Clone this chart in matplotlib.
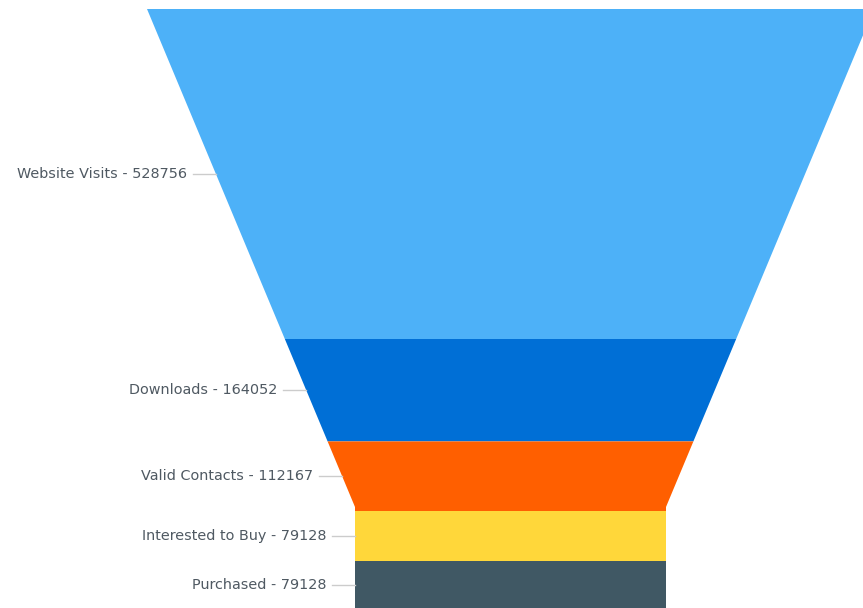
import matplotlib
matplotlib.use("Agg")
import matplotlib.pyplot as plt
from matplotlib.patches import Polygon

categories = ["Website Visits", "Downloads", "Valid Contacts", "Interested to Buy", "Purchased"]
values = [528756, 164052, 112167, 79128, 79128]
colors = ["#4db1f8", "#006fd6", "#ff5f00", "#ffd73a", "#405864"]

W, H = 863, 608
fig = plt.figure(figsize=(W / 100, H / 100), dpi=100)
ax = fig.add_axes([0, 0, 1, 1])
ax.set_xlim(0, W)
ax.set_ylim(H, 0)
ax.axis("off")

# funnel geometry (pixel space)
y_top = 9
scale = 330 / values[0]
cx = 510.5
top_half = 363.5
neck_half = 155.5
neck_y = 507
slope = (top_half - neck_half) / (neck_y - y_top)


def half_width(y):
    if y >= neck_y:
        return neck_half
    return top_half - slope * (y - y_top)


y = y_top
for cat, val, col in zip(categories, values, colors):
    y2 = y + val * scale
    pts_y = [y]
    if y < neck_y < y2:
        pts_y.append(neck_y)
    pts_y.append(y2)
    left = [(cx - half_width(p), p) for p in pts_y]
    right = [(cx + half_width(p), p) for p in reversed(pts_y)]
    ax.add_patch(Polygon(left + right, closed=True, facecolor=col, edgecolor="none"))
    ym = (y + y2) / 2
    ex = cx - half_width(ym)
    ax.plot([ex - 23, ex], [ym, ym], color="#cccccc", lw=1)
    ax.text(ex - 29, ym, f"{cat} - {val}", ha="right", va="center",
            fontsize=10.4, color="#4f5962", family="DejaVu Sans")
    y = y2

fig.savefig("out.png", dpi=100)
